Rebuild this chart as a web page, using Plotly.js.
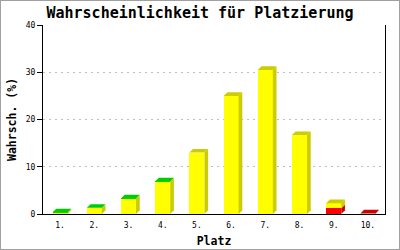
<!DOCTYPE html>
<html>
<head>
<meta charset="utf-8">
<script src="https://cdn.plot.ly/plotly-3.0.1.min.js"></script>
<style>
  html, body { margin: 0; padding: 0; background: #fff; }
  #wrap { position: relative; width: 400px; height: 250px; }
  #chart { width: 400px; height: 250px; }
  #frame { position: absolute; left: 0; top: 0; width: 398px; height: 248px; border: 1px solid #a0a0a0; pointer-events: none; }
</style>
</head>
<body>
<div id="wrap"><div id="chart"></div><div id="frame"></div></div>
<script>
// ---- data ----
const places = [1, 2, 3, 4, 5, 6, 7, 8, 9, 10];
const placeLabels = ['1.', '2.', '3.', '4.', '5.', '6.', '7.', '8.', '9.', '10.'];
const redValues    = [0, 0, 0, 0, 0, 0, 0, 0, 1.2, 0.1];
const yellowValues = [0.25, 1.2, 3.2, 6.8, 13.0, 25.0, 30.5, 16.7, 1.1, 0];
const greenValues  = [0.1, 0.1, 0.1, 0.1, 0, 0, 0, 0, 0, 0];
const yTicks = [0, 10, 20, 30, 40];

// ---- styling ----
const series = [
  { name: 'rot',  values: redValues,    front: '#ff0000', dark: '#cc0000' },
  { name: 'gelb', values: yellowValues, front: '#ffff00', dark: '#cccc00' },
  { name: 'grün', values: greenValues,  front: '#00dd00', dark: '#00cc00' }
];
const barW = 0.44;   // bar width in category units
const dX = 0.108;    // depth offset in x (category units)
const dY = 0.78;     // depth offset in y (value units)

const traces = [];
series.forEach(s => {
  traces.push({
    type: 'bar', x: places, y: s.values, width: barW, name: s.name,
    marker: { color: s.front, line: { width: 0 } },
    hoverinfo: 'skip', showlegend: false
  });
});

function poly(xs, ys, color) {
  traces.push({
    type: 'scatter', mode: 'lines', x: xs, y: ys, fill: 'toself',
    fillcolor: color, line: { width: 0, color: color },
    hoverinfo: 'skip', showlegend: false
  });
}

places.forEach((p, i) => {
  const xl = p - barW / 2, xr = p + barW / 2;
  let base = 0, topColor = null;
  series.forEach(s => {
    const v = s.values[i];
    if (v > 0) {
      poly([xr, xr + dX, xr + dX, xr], [base, base + dY, base + v + dY, base + v], s.dark);
      base += v;
      topColor = s.dark;
    }
  });
  if (topColor) {
    poly([xl, xr, xr + dX, xl + dX], [base, base, base + dY, base + dY], topColor);
  }
});

const mono = 'DejaVu Sans Mono, monospace';
const layout = {
  width: 400, height: 250,
  margin: { l: 43, r: 15, t: 25, b: 36 },
  paper_bgcolor: '#ffffff', plot_bgcolor: '#ffffff',
  barmode: 'stack', showlegend: false,
  title: {
    text: '<b>Wahrscheinlichkeit für Platzierung</b>',
    font: { family: mono, size: 15, color: '#000' },
    xref: 'container', x: 0.5, xanchor: 'center',
    yref: 'container', y: 1 - 13 / 250, yanchor: 'middle'
  },
  xaxis: {
    range: [0.5, 10.5], tickvals: places, ticktext: placeLabels,
    showgrid: false, zeroline: false,
    showline: true, linecolor: '#000', linewidth: 1,
    ticks: 'outside', ticklen: 3, tickcolor: 'rgba(0,0,0,0)',
    tickfont: { family: mono, size: 8, color: '#000' },
    title: { text: '<b>Platz</b>', font: { family: mono, size: 11.5, color: '#000' }, standoff: 8 },
    automargin: false, fixedrange: true
  },
  yaxis: {
    range: [0, 40], tickvals: yTicks,
    showgrid: true, gridcolor: '#c0c0c0', griddash: '2px,4px', gridwidth: 1,
    zeroline: false,
    showline: true, mirror: true, linecolor: '#000', linewidth: 1,
    ticks: 'outside', ticklen: 5, tickcolor: '#000',
    tickfont: { family: mono, size: 8, color: '#000' },
    title: { text: '<b>Wahrsch. (%)</b>', font: { family: mono, size: 11.5, color: '#000' }, standoff: 6 },
    automargin: false, fixedrange: true
  }
};

Plotly.newPlot('chart', traces, layout, { staticPlot: true, displayModeBar: false });
</script>
</body>
</html>
